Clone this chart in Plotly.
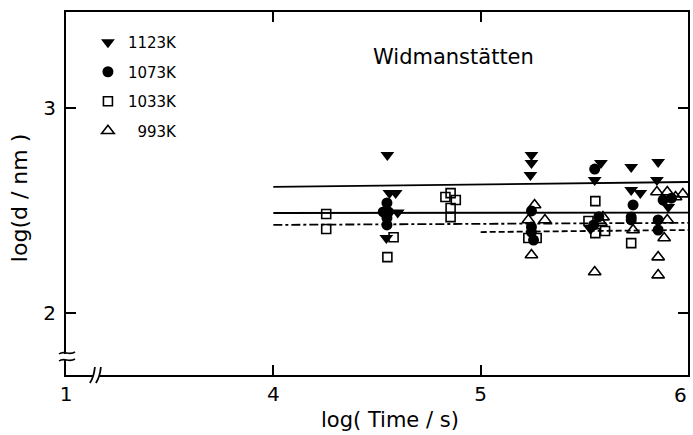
import plotly.graph_objects as go

# ---------------- data ----------------
x_1123 = [4.55, 4.56, 4.59, 4.60, 4.545, 5.245, 5.245, 5.24, 5.58, 5.55, 5.53,
          5.726, 5.726, 5.77, 5.856, 5.85, 5.905]
y_1123 = [2.771, 2.585, 2.585, 2.49, 2.366, 2.771, 2.732, 2.673, 2.732, 2.649, 2.41,
          2.712, 2.60, 2.585, 2.737, 2.649, 2.517]

x_1073 = [4.548, 4.53, 4.555, 4.548, 4.548, 5.245, 5.245, 5.245, 5.255, 5.55, 5.57, 5.545,
          5.735, 5.726, 5.726, 5.88, 5.92, 5.856, 5.856]
y_1073 = [2.537, 2.493, 2.493, 2.463, 2.43, 2.498, 2.42, 2.395, 2.356, 2.702, 2.47, 2.43,
          2.527, 2.468, 2.454, 2.551, 2.56, 2.454, 2.405]

x_1033 = [4.255, 4.255, 4.58, 4.55, 4.855, 4.83, 4.88, 4.855, 4.855, 5.23, 5.27,
          5.553, 5.52, 5.60, 5.553, 5.726]
y_1033 = [2.483, 2.41, 2.37, 2.273, 2.585, 2.566, 2.551, 2.512, 2.468, 2.366, 2.366,
          2.546, 2.449, 2.40, 2.39, 2.341]

x_993 = [5.26, 5.23, 5.31, 5.245, 5.59, 5.58, 5.55, 5.735, 5.85, 5.90, 5.94, 5.90,
         5.885, 5.856, 5.856, 5.975]
y_993 = [2.527, 2.454, 2.454, 2.283, 2.468, 2.44, 2.20, 2.405, 2.59, 2.59, 2.566, 2.454,
         2.366, 2.273, 2.185, 2.58]

# fitted lines (start, end)
fit_x_1123 = [4.0, 6.0]; fit_y_1123 = [2.615, 2.639]
fit_x_1073 = [4.0, 6.0]; fit_y_1073 = [2.488, 2.490]
fit_x_1033 = [4.0, 6.0]; fit_y_1033 = [2.430, 2.440]
fit_x_993 = [5.0, 6.0]; fit_y_993 = [2.395, 2.405]

x_tickvals = [3, 4, 5, 6]
x_ticktext = ["1", "4", "5", ""]
x_last_label = "6"
y_tickvals = [2, 3]
y_ticktext = ["2", "3"]

X_RANGE = [3.0, 6.0]
Y_RANGE = [1.698, 3.468]

FONT = "DejaVu Sans"
W, H = 693, 435
ML, MR, MT, MB = 66, 3, 12, 60
PW, PH = W - ML - MR, H - MT - MB


def paper(px, py):
    return (px - ML) / PW, (H - MB - py) / PH


fig = go.Figure()

line_specs = [
    (fit_x_1123, fit_y_1123, "solid"),
    (fit_x_1073, fit_y_1073, "solid"),
    (fit_x_1033, fit_y_1033, "dashdot"),
    (fit_x_993, fit_y_993, "6px,3px"),
]
for lx, ly, dash in line_specs:
    fig.add_trace(go.Scatter(x=lx, y=ly, mode="lines", showlegend=False,
                             line=dict(color="black", width=1.8, dash=dash),
                             hoverinfo="skip"))

series = [
    ("1123K", x_1123, y_1123, "triangle-down", 12, "black", 0),
    ("1073K", x_1073, y_1073, "circle", 11, "black", 0),
    ("1033K", x_1033, y_1033, "square-open", 9, "black", 1.6),
    ("\u00a0\u00a0993K", x_993, y_993, "triangle-up-open", 11, "black", 1.6),
]
for i, (name, xs, ys, sym, sz, col, lw) in enumerate(series):
    fig.add_trace(go.Scatter(
        x=xs, y=ys, mode="markers", name=name, legendgroup=f"g{i}",
        marker=dict(symbol=sym, size=sz, color=col,
                    line=dict(color="black", width=lw)),
    ))

# break marks
shapes = []
gx0, _ = paper(93, 375)
gx1, _ = paper(100, 375)
shapes.append(dict(type="rect", xref="paper", yref="paper", x0=gx0, x1=gx1,
                   y0=paper(0, 378)[1], y1=paper(0, 372)[1],
                   fillcolor="white", line=dict(width=0), layer="above"))
for bx in (93, 99):
    a = paper(bx - 3, 383)
    b = paper(bx + 2, 367)
    c = paper(bx + 1, 377)
    shapes.append(dict(type="path", xref="paper", yref="paper",
                       path=f"M {a[0]},{a[1]} Q {c[0]},{c[1]} {b[0]},{b[1]}",
                       line=dict(color="black", width=1.8), layer="above"))
shapes.append(dict(type="rect", xref="paper", yref="paper",
                   x0=paper(63, 0)[0], x1=paper(69, 0)[0],
                   y0=paper(0, 360)[1], y1=paper(0, 354)[1],
                   fillcolor="white", line=dict(width=0), layer="above"))
for by in (353, 360):
    a = paper(59, by + 1)
    c1 = paper(64, by - 3)
    c2 = paper(69, by + 3)
    b = paper(75, by - 1)
    shapes.append(dict(type="path", xref="paper", yref="paper",
                       path=f"M {a[0]},{a[1]} C {c1[0]},{c1[1]} {c2[0]},{c2[1]} {b[0]},{b[1]}",
                       line=dict(color="black", width=1.6), layer="above"))

annotations = [
    dict(text="Widmanstätten", xref="paper", yref="paper",
         x=paper(455, 0)[0], y=paper(0, 43)[1], showarrow=False,
         font=dict(family=FONT, size=21, color="black")),
    dict(text="log( Time / s)", xref="paper", yref="paper",
         x=paper(391, 0)[0], y=paper(0, 420)[1], showarrow=False,
         xanchor="center", yanchor="middle",
         font=dict(family=FONT, size=21, color="black")),
    dict(text="log(d\u00a0/\u00a0nm\u00a0)", xref="paper", yref="paper", textangle=-90,
         x=paper(19, 0)[0], y=paper(0, 198)[1], showarrow=False,
         xanchor="center", yanchor="middle",
         font=dict(family=FONT, size=22, color="black")),
    dict(text=x_last_label, xref="paper", yref="paper", x=1.0,
         y=paper(0, 395)[1], showarrow=False, xanchor="right", yanchor="middle",
         xshift=1,
         font=dict(family=FONT, size=20, color="black")),
]

axis_common = dict(showgrid=False, zeroline=False, showline=True, linecolor="black",
                   linewidth=2, ticks="inside", ticklen=10, tickwidth=1.8,
                   tickcolor="black", mirror="ticks",
                   tickfont=dict(family=FONT, size=20, color="black"))

fig.update_layout(
    width=W, height=H,
    margin=dict(l=ML, r=MR, t=MT, b=MB),
    paper_bgcolor="white", plot_bgcolor="white",
    xaxis=dict(range=X_RANGE, tickvals=x_tickvals, ticktext=x_ticktext, **axis_common),
    yaxis=dict(range=Y_RANGE, tickvals=y_tickvals, ticktext=y_ticktext,
               ticklabelstandoff=4, **axis_common),
    legend=dict(x=paper(88, 0)[0], y=paper(0, 26)[1], xanchor="left", yanchor="top",
                bgcolor="rgba(0,0,0,0)", tracegroupgap=7,
                font=dict(family=FONT, size=15, color="black"), itemwidth=30),
    shapes=shapes, annotations=annotations,
    showlegend=True,
)

fig.write_html("out.html")
